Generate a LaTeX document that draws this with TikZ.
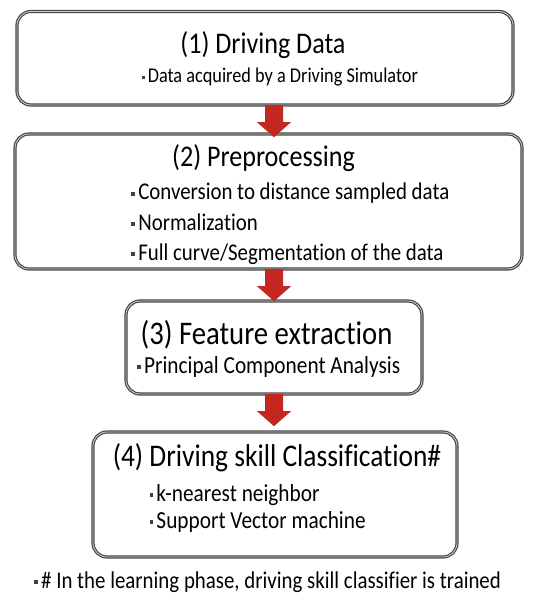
\documentclass[tikz,border=0pt]{standalone}
\usepackage{fontspec}
\setmainfont{Carlito}[FakeStretch=0.87, Ligatures=NoCommon]
\usetikzlibrary{calc}

\definecolor{arrowedge}{RGB}{196,38,32}
\definecolor{arrowmid}{RGB}{240,84,70}

% square bullet used in the item lists
\newcommand{\sqbul}{\hbox to 0.42em{\hss\raisebox{0.18em}{\color{black!75}\rule{0.15em}{0.15em}}\hss}}

\tikzset{
  stage/.style={draw=black!72, double=black!18, double distance=0.8pt, line width=1.2pt,
    rounded corners=14pt},
  titletext/.style={anchor=base, inner sep=0pt, font=\fontsize{30}{36}\selectfont},
  bodytext/.style={anchor=base, inner sep=0pt, font=\fontsize{24.5}{29}\selectfont},
  listtext/.style={anchor=base west, inner sep=0pt, font=\fontsize{24.5}{29}\selectfont},
  notetext/.style={anchor=base, inner sep=0pt, font=\fontsize{24}{28}\selectfont},
}

% red block arrow from node #1 down towards node #2, in the column of coordinate col
\newcommand{\blockarrow}[2]{%
  \path let \p1=($(#1.south -| col)$), \p2=($(#2.north -| col)$) in
    [left color=arrowedge, middle color=arrowmid, right color=arrowedge, draw=none]
    (\x1-9,\y1) -- (\x1+9,\y1) -- (\x1+9,\y1-17) -- (\x1+17,\y1-17)
    -- (\x1,\y1-32) -- (\x1-17,\y1-17) -- (\x1-9,\y1-17) -- cycle;}

\begin{document}
\begin{tikzpicture}[x=1pt, y=-1pt]
\useasboundingbox (0,0) rectangle (539,593);
\coordinate (col) at (274,0);

% stage boxes
\draw[stage] (17,11.5) rectangle (513,105);
\node[inner sep=0pt, minimum width=496pt, minimum height=93.5pt] (b1) at (265,58.25) {};
\draw[stage] (15,134) rectangle (522,269);
\node[inner sep=0pt, minimum width=507pt, minimum height=135pt] (b2) at (268.5,201.5) {};
\draw[stage] (126,301) rectangle (422,394);
\node[inner sep=0pt, minimum width=296pt, minimum height=93pt] (b3) at (274,347.5) {};
\draw[stage] (93,432) rectangle (457,557);
\node[inner sep=0pt, minimum width=364pt, minimum height=125pt] (b4) at (275,494.5) {};

% texts
\node[titletext] (t1) at (263,54) {(1) Driving Data};
\node[bodytext, font=\fontsize{21}{25}\selectfont] (s1) at (278.5,83) {\sqbul Data acquired by a Driving Simulator};

\node[titletext] (t2) at (263.5,167) {(2) Preprocessing};
\node[listtext, font=\fontsize{24}{29}\selectfont] (s2a) at (128,200) {\sqbul Conversion to distance sampled data};
\node[listtext, font=\fontsize{24}{29}\selectfont] (s2b) at (128,230) {\sqbul Normalization};
\node[listtext, font=\fontsize{24}{29}\selectfont] (s2c) at (128,260) {\sqbul Full curve/Segmentation of the data};

\node[titletext, font=\fontsize{33}{38}\selectfont] (t3) at (266.5,344) {(3) Feature extraction};
\node[bodytext] (s3) at (267,373) {\sqbul Principal Component Analysis};

\node[titletext, font=\fontsize{31.5}{36}\selectfont] (t4) at (277,466) {(4) Driving skill Classification\#};
\node[listtext] (s4a) at (146,501) {\sqbul k-nearest neighbor};
\node[listtext] (s4b) at (146,528) {\sqbul Support Vector machine};

\node[notetext] (fn) at (266,588) {\sqbul\# In the learning phase, driving skill classifier is trained};

% arrows between stages
\blockarrow{b1}{b2}
\blockarrow{b2}{b3}
\blockarrow{b3}{b4}
\end{tikzpicture}
\end{document}
